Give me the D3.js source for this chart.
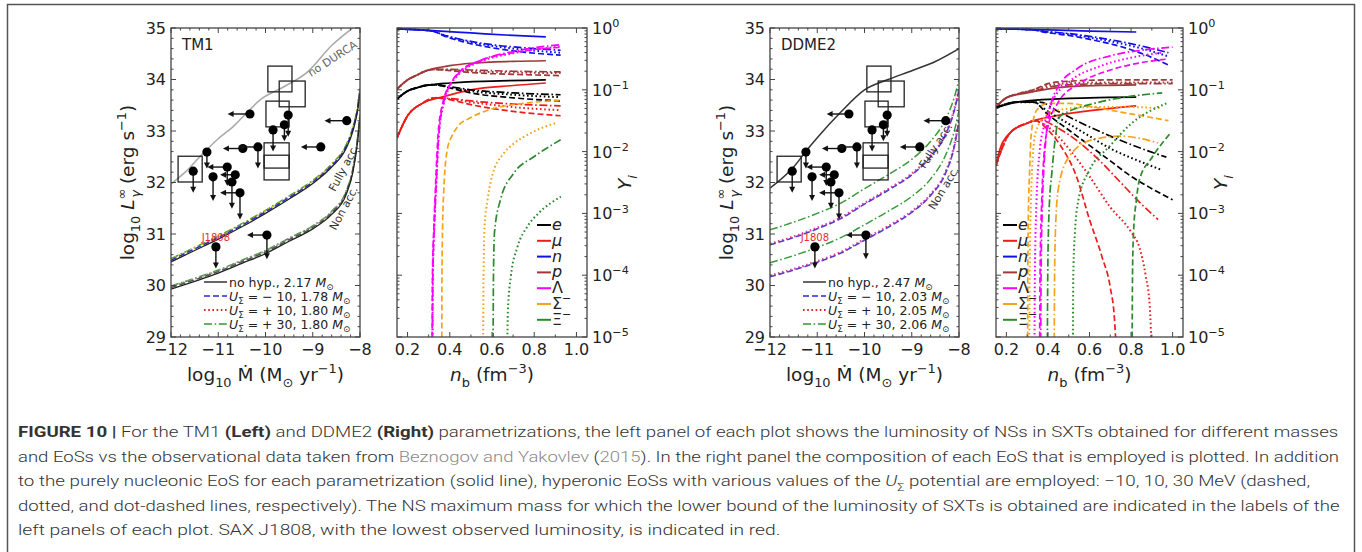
<!DOCTYPE html>
<html><head><meta charset="utf-8">
<script src="https://cdn.jsdelivr.net/npm/d3@7"></script>
<style>body{margin:0;background:#fff} svg{display:block}</style>
</head><body>
<script>
// ================= DATA =================
const mdotTicks = [-12,-11,-10,-9,-8];
const lumTicks = [29,30,31,32,33,34,35];
const nbTicks = [0.2,0.4,0.6,0.8,1.0];
const yiTicks = [0,-1,-2,-3,-4,-5];

// observational SXT data (log10 Mdot, log10 L)
const obsMdot = [-11.53,-11.24,-11.11,-10.81,-10.71,-10.64,-10.54,-10.48,-10.16,-10.33,-9.84,-9.60,-9.52,-8.83,-8.28,-11.05,-9.97];
const obsLum  = [32.22,32.59,32.11,32.30,32.01,32.15,31.80,32.66,32.69,33.33,33.02,33.12,33.31,32.69,33.20,30.75,30.98];
const obsDown = [0.40,0.30,0.45,0.35,0.50,0,0.50,0,0.40,0,0.40,0.30,0.40,0,0,0.40,0.45];
const obsLeft = [0,0,0,0.40,0,0.30,0.40,0.40,0.40,0.45,0,0,0,0.40,0.45,0,0.40];
const obsName = ["","","","","","","","","","","","","","","","J1808",""];
const boxMdot0 = [-11.85,-9.95,-9.71,-9.99,-10.03,-10.03];
const boxMdot1 = [-11.34,-9.44,-9.16,-9.50,-9.50,-9.50];
const boxLum0  = [32.01,33.76,33.47,33.08,32.28,32.05];
const boxLum1  = [32.51,34.26,33.97,33.58,32.77,32.53];

// TM1 luminosity curves
const tm1NoDurca = [[-12,31.97],[-11.7,32.2],[-11.39,32.5],[-11.0,32.85],[-10.69,33.08],[-10.4,33.35],[-10.12,33.6],[-9.63,33.85],[-9.12,34.14],[-8.6,34.66],[-8.2,34.97],[-8.05,35.08]];
const tm1FullySolid   = [[-12,30.46],[-11.5,30.68],[-11,30.90],[-10.5,31.14],[-10,31.40],[-9.5,31.68],[-9,31.98],[-8.6,32.30],[-8.3,32.65],[-8.15,33.00],[-8.05,33.40],[-8,33.75]];
const tm1FullyDash    = [[-12,30.49],[-11.5,30.71],[-11,30.93],[-10.5,31.17],[-10,31.43],[-9.5,31.71],[-9,32.01],[-8.6,32.33],[-8.3,32.69],[-8.15,33.05],[-8.05,33.45],[-8,33.80]];
const tm1FullyDot     = [[-12,30.51],[-11.5,30.73],[-11,30.95],[-10.5,31.19],[-10,31.45],[-9.5,31.73],[-9,32.03],[-8.6,32.35],[-8.3,32.71],[-8.15,33.07],[-8.05,33.47],[-8,33.82]];
const tm1FullyDashdot = [[-12,30.52],[-11.5,30.74],[-11,30.96],[-10.5,31.20],[-10,31.46],[-9.5,31.74],[-9,32.04],[-8.6,32.36],[-8.3,32.72],[-8.15,33.08],[-8.05,33.48],[-8,33.83]];
const tm1NonSolid     = [[-12,29.93],[-11.5,30.08],[-11,30.24],[-10.5,30.43],[-10,30.62],[-9.5,30.86],[-9,31.10],[-8.6,31.38],[-8.3,31.75],[-8.15,32.20],[-8.05,32.80],[-8,33.25]];
const tm1NonDash      = [[-12,29.96],[-11.5,30.11],[-11,30.27],[-10.5,30.46],[-10,30.65],[-9.5,30.89],[-9,31.13],[-8.6,31.41],[-8.3,31.79],[-8.15,32.25],[-8.05,32.85],[-8,33.30]];
const tm1NonDot       = [[-12,29.98],[-11.5,30.13],[-11,30.29],[-10.5,30.48],[-10,30.67],[-9.5,30.91],[-9,31.15],[-8.6,31.43],[-8.3,31.81],[-8.15,32.27],[-8.05,32.87],[-8,33.32]];
const tm1NonDashdot   = [[-12,29.99],[-11.5,30.14],[-11,30.30],[-10.5,30.49],[-10,30.68],[-9.5,30.92],[-9,31.16],[-8.6,31.44],[-8.3,31.82],[-8.15,32.28],[-8.05,32.88],[-8,33.33]];

// DDME2 luminosity curves
const ddTop = [[-12,31.89],[-11.5,32.3],[-11.22,32.63],[-11,32.87],[-10.5,33.37],[-10,33.8],[-9.5,34.0],[-9,34.17],[-8.5,34.35],[-8,34.6]];
const ddFullyDash    = [[-12,30.79],[-11.5,30.93],[-11,31.10],[-10.5,31.30],[-10,31.58],[-9.5,31.85],[-9,32.15],[-8.6,32.50],[-8.3,32.90],[-8.1,33.40],[-8,33.80]];
const ddFullyDot     = [[-12,30.81],[-11.5,30.95],[-11,31.12],[-10.5,31.32],[-10,31.60],[-9.5,31.87],[-9,32.17],[-8.6,32.52],[-8.3,32.92],[-8.1,33.42],[-8,33.82]];
const ddFullyDashdot = [[-12,31.08],[-11.5,31.23],[-11,31.40],[-10.5,31.60],[-10,31.88],[-9.5,32.15],[-9,32.45],[-8.6,32.80],[-8.3,33.20],[-8.1,33.65],[-8,34.00]];
const ddNonDash      = [[-12,30.17],[-11.5,30.30],[-11,30.45],[-10.5,30.63],[-10,30.88],[-9.5,31.13],[-9,31.42],[-8.6,31.75],[-8.3,32.15],[-8.1,32.70],[-8,33.20]];
const ddNonDot       = [[-12,30.19],[-11.5,30.32],[-11,30.47],[-10.5,30.65],[-10,30.90],[-9.5,31.15],[-9,31.44],[-8.6,31.77],[-8.3,32.17],[-8.1,32.72],[-8,33.22]];
const ddNonDashdot   = [[-12,30.44],[-11.5,30.58],[-11,30.74],[-10.5,30.93],[-10,31.18],[-9.5,31.44],[-9,31.73],[-8.6,32.07],[-8.3,32.50],[-8.1,33.00],[-8,33.40]];

// TM1 composition: [n_b, log10 Y_i]
const tm1_n_solid  = [[0.15,-0.015],[0.3,-0.04],[0.5,-0.08],[0.7,-0.12],[0.855,-0.145]];
const tm1_p_solid  = [[0.15,-0.99],[0.2,-0.84],[0.245,-0.76],[0.3,-0.68],[0.4,-0.61],[0.5,-0.57],[0.7,-0.54],[0.855,-0.53]];
const tm1_e_solid  = [[0.15,-1.15],[0.2,-1.02],[0.25,-0.96],[0.307,-0.92],[0.4,-0.89],[0.6,-0.86],[0.855,-0.84]];
const tm1_mu_solid = [[0.15,-1.78],[0.2,-1.42],[0.27,-1.22],[0.37,-1.11],[0.5,-1.0],[0.7,-0.93],[0.855,-0.89]];
const tm1_n_dash    = [[0.15,-0.015],[0.3,-0.04],[0.33,-0.06],[0.36,-0.11],[0.46,-0.22],[0.6,-0.32],[0.75,-0.39],[0.925,-0.44]];
const tm1_n_dot     = [[0.15,-0.015],[0.3,-0.04],[0.33,-0.06],[0.36,-0.10],[0.46,-0.20],[0.6,-0.29],[0.75,-0.35],[0.925,-0.40]];
const tm1_n_dashdot = [[0.15,-0.015],[0.3,-0.04],[0.33,-0.06],[0.36,-0.10],[0.46,-0.19],[0.6,-0.27],[0.75,-0.32],[0.925,-0.36]];
const tm1_L_dash    = [[0.316,-5.3],[0.318,-4],[0.325,-3.2],[0.332,-2.6],[0.345,-1.7],[0.37,-1.17],[0.4,-0.92],[0.44,-0.73],[0.55,-0.52],[0.7,-0.40],[0.925,-0.31]];
const tm1_L_dot     = [[0.318,-5.3],[0.32,-4],[0.327,-3.2],[0.335,-2.6],[0.348,-1.75],[0.373,-1.2],[0.4,-0.95],[0.44,-0.76],[0.55,-0.54],[0.7,-0.41],[0.925,-0.30]];
const tm1_L_dashdot = [[0.318,-5.3],[0.32,-4],[0.327,-3.2],[0.335,-2.6],[0.348,-1.72],[0.373,-1.18],[0.4,-0.93],[0.44,-0.74],[0.55,-0.52],[0.7,-0.38],[0.925,-0.27]];
const tm1_p_dash    = [[0.15,-0.99],[0.2,-0.84],[0.245,-0.76],[0.3,-0.68],[0.33,-0.67],[0.4,-0.69],[0.5,-0.72],[0.7,-0.75],[0.925,-0.77]];
const tm1_p_dot     = [[0.15,-0.99],[0.2,-0.84],[0.245,-0.76],[0.3,-0.68],[0.33,-0.67],[0.4,-0.68],[0.5,-0.70],[0.7,-0.72],[0.925,-0.73]];
const tm1_p_dashdot = [[0.15,-0.99],[0.2,-0.84],[0.245,-0.76],[0.3,-0.68],[0.33,-0.67],[0.4,-0.67],[0.5,-0.68],[0.7,-0.70],[0.925,-0.71]];
const tm1_e_dash    = [[0.15,-1.15],[0.2,-1.02],[0.25,-0.96],[0.307,-0.92],[0.33,-0.92],[0.4,-0.97],[0.5,-1.05],[0.7,-1.13],[0.925,-1.18]];
const tm1_e_dot     = [[0.15,-1.15],[0.2,-1.02],[0.25,-0.96],[0.307,-0.92],[0.33,-0.92],[0.4,-0.96],[0.5,-1.02],[0.7,-1.08],[0.925,-1.12]];
const tm1_e_dashdot = [[0.15,-1.15],[0.2,-1.02],[0.25,-0.96],[0.307,-0.92],[0.33,-0.92],[0.4,-0.95],[0.5,-1.00],[0.7,-1.05],[0.925,-1.08]];
const tm1_mu_dash    = [[0.15,-1.78],[0.2,-1.42],[0.27,-1.22],[0.33,-1.13],[0.4,-1.16],[0.5,-1.24],[0.7,-1.35],[0.925,-1.42]];
const tm1_mu_dot     = [[0.15,-1.78],[0.2,-1.42],[0.27,-1.22],[0.33,-1.13],[0.4,-1.15],[0.5,-1.20],[0.7,-1.28],[0.925,-1.33]];
const tm1_mu_dashdot = [[0.15,-1.78],[0.2,-1.42],[0.27,-1.22],[0.33,-1.13],[0.4,-1.14],[0.5,-1.18],[0.7,-1.23],[0.925,-1.26]];
const tm1_S_dash = [[0.362,-5.3],[0.363,-4],[0.366,-3.2],[0.372,-2.6],[0.388,-1.97],[0.41,-1.75],[0.436,-1.6],[0.5,-1.45],[0.58,-1.33],[0.75,-1.22],[0.925,-1.17]];
const tm1_S_dot  = [[0.558,-5.3],[0.56,-4],[0.565,-3.2],[0.579,-2.78],[0.6,-2.4],[0.655,-2.03],[0.7,-1.88],[0.783,-1.7],[0.9,-1.54]];
const tm1_X_dashdot = [[0.605,-5.3],[0.607,-4],[0.612,-3.3],[0.64,-2.78],[0.703,-2.35],[0.8,-2.08],[0.925,-1.81]];
const tm1_X_dot     = [[0.672,-5.3],[0.675,-4.6],[0.69,-4.0],[0.72,-3.55],[0.77,-3.2],[0.82,-3.0],[0.926,-2.73]];

// DDME2 composition
const dd_n_solid  = [[0.15,-0.01],[0.4,-0.03],[0.6,-0.05],[0.825,-0.065]];
const dd_p_solid  = [[0.15,-1.28],[0.2,-1.13],[0.3,-1.05],[0.46,-0.96],[0.65,-0.93],[0.825,-0.92]];
const dd_e_solid  = [[0.15,-1.29],[0.25,-1.2],[0.37,-1.16],[0.6,-1.13],[0.825,-1.12]];
const dd_mu_solid = [[0.15,-2.22],[0.17,-1.95],[0.217,-1.7],[0.3,-1.54],[0.456,-1.41],[0.65,-1.32],[0.825,-1.26]];
const dd_n_dash    = [[0.15,-0.01],[0.33,-0.03],[0.37,-0.06],[0.5,-0.12],[0.61,-0.19],[0.75,-0.30],[0.85,-0.41],[0.98,-0.60]];
const dd_n_dot     = [[0.15,-0.01],[0.33,-0.03],[0.37,-0.05],[0.5,-0.10],[0.61,-0.16],[0.75,-0.25],[0.85,-0.33],[0.98,-0.46]];
const dd_n_dashdot = [[0.15,-0.01],[0.33,-0.03],[0.37,-0.05],[0.5,-0.09],[0.61,-0.14],[0.75,-0.22],[0.85,-0.29],[0.98,-0.40]];
const dd_L_dash    = [[0.36,-5.3],[0.362,-4],[0.37,-2.8],[0.38,-2.1],[0.4,-1.6],[0.45,-1.2],[0.55,-0.9],[0.7,-0.68],[0.85,-0.56],[0.98,-0.5]];
const dd_L_dot     = [[0.335,-5.3],[0.337,-4],[0.345,-2.8],[0.36,-2.0],[0.38,-1.6],[0.42,-1.2],[0.5,-0.88],[0.65,-0.62],[0.8,-0.48],[0.95,-0.4]];
const dd_L_dashdot = [[0.365,-5.3],[0.367,-4],[0.372,-3],[0.38,-2.3],[0.39,-1.8],[0.41,-1.3],[0.45,-0.95],[0.54,-0.66],[0.7,-0.45],[0.85,-0.36],[1.0,-0.31]];
const dd_p_dash    = [[0.15,-1.28],[0.2,-1.13],[0.25,-1.07],[0.33,-1.0],[0.4,-0.9],[0.46,-0.87],[0.7,-0.84],[1.0,-0.84]];
const dd_p_dot     = [[0.15,-1.28],[0.2,-1.13],[0.25,-1.07],[0.33,-1.0],[0.4,-0.93],[0.46,-0.9],[0.7,-0.88],[1.0,-0.88]];
const dd_p_dashdot = [[0.15,-1.28],[0.2,-1.13],[0.25,-1.07],[0.33,-1.02],[0.4,-0.96],[0.46,-0.93],[0.7,-0.9],[1.0,-0.9]];
const dd_e_dash    = [[0.15,-1.29],[0.25,-1.2],[0.33,-1.2],[0.4,-1.4],[0.5,-1.65],[0.6,-1.9],[0.7,-2.15],[0.8,-2.4],[0.9,-2.6],[1.0,-2.78]];
const dd_e_dot     = [[0.15,-1.29],[0.25,-1.2],[0.33,-1.2],[0.4,-1.35],[0.5,-1.55],[0.6,-1.75],[0.7,-1.95],[0.8,-2.1],[0.95,-2.3]];
const dd_e_dashdot = [[0.15,-1.29],[0.25,-1.2],[0.36,-1.2],[0.45,-1.35],[0.55,-1.52],[0.7,-1.75],[0.85,-1.95],[0.97,-2.09]];
const dd_mu_dash    = [[0.15,-2.22],[0.217,-1.7],[0.3,-1.54],[0.34,-1.5],[0.4,-1.65],[0.46,-1.9],[0.537,-2.4],[0.6,-3.1],[0.66,-3.7],[0.7,-4.2],[0.72,-4.7],[0.73,-5.3]];
const dd_mu_dot     = [[0.15,-2.22],[0.217,-1.7],[0.3,-1.54],[0.33,-1.5],[0.4,-1.6],[0.5,-1.95],[0.6,-2.4],[0.7,-2.9],[0.8,-3.3],[0.84,-3.55],[0.87,-4.0],[0.89,-4.5],[0.9,-5.3]];
const dd_mu_dashdot = [[0.15,-2.22],[0.217,-1.7],[0.3,-1.54],[0.36,-1.49],[0.45,-1.62],[0.55,-1.85],[0.65,-2.15],[0.75,-2.5],[0.85,-2.85],[0.93,-3.1]];
const dd_S_dash    = [[0.302,-5.3],[0.303,-4],[0.306,-3],[0.312,-2.3],[0.32,-1.7],[0.346,-1.33],[0.4,-1.22],[0.5,-1.22],[0.6,-1.27],[0.75,-1.36],[0.9,-1.45],[0.98,-1.5]];
const dd_S_dot     = [[0.31,-5.3],[0.312,-4],[0.317,-3],[0.325,-2.2],[0.34,-1.7],[0.38,-1.45],[0.45,-1.33],[0.6,-1.28],[0.8,-1.28],[0.95,-1.3]];
const dd_S_dashdot = [[0.43,-5.3],[0.432,-4],[0.437,-3.2],[0.45,-2.6],[0.5,-2.09],[0.61,-1.81],[0.75,-1.75],[0.93,-1.86]];
const dd_X_dashdot = [[0.397,-5.3],[0.399,-4],[0.405,-3],[0.42,-2.3],[0.456,-1.44],[0.5,-1.35],[0.6,-1.24],[0.75,-1.13],[0.95,-1.05]];
const dd_X_dot     = [[0.52,-5.3],[0.522,-4],[0.53,-3.3],[0.547,-2.78],[0.6,-2.3],[0.695,-1.92],[0.8,-1.55],[0.97,-1.22]];
const dd_X_dash    = [[0.805,-5.3],[0.807,-4],[0.812,-3.3],[0.825,-2.8],[0.84,-2.46],[0.9,-2.1],[0.99,-1.7]];

const speciesKeys = ["e","mu","n","p","L","S","X"];
const speciesColor = {e:"#000000", mu:"#ee1c1c", n:"#1010e8", p:"#a0383a", L:"#ff00ff", S:"#f5a31c", X:"#2b8a2b"};

// ================= DRAWING =================
const W = 1362, H = 552;
const svg = d3.select("body").append("svg").attr("width",W).attr("height",H)
  .style("font-family","'DejaVu Sans', sans-serif");
svg.append("rect").attr("x",7.5).attr("y",4.5).attr("width",1347).attr("height",620)
  .attr("fill","none").attr("stroke","#555").attr("stroke-width",1.5);

const PY0 = 28, PY1 = 337;
const dashes = {solid:null, dash:"6,3", dot:"1.6,2.6", dashdot:"8,2.6,1.6,2.6"};
const TICKFS = 16, LABFS = 18.5;

function rich(sel, parts, fs) {
  let cur = 0;
  parts.forEach(p => {
    const ts = sel.append("tspan").text(p.t);
    const target = p.sub ? fs*0.3 : (p.sup ? -fs*0.42 : 0);
    const dy = target - cur;
    if (dy !== 0) ts.attr("dy", dy);
    cur = target;
    if (p.sub || p.sup) ts.attr("font-size", fs*0.7);
    if (p.i) ts.attr("font-style","italic");
    if (p.b) ts.attr("font-weight","bold");
    if (p.fill) ts.attr("fill", p.fill);
    if (p.dx) ts.attr("dx", p.dx);
  });
}

function frameTicks(g, x, y, xMaj, xMin, yMaj, yMin) {
  const [x0,x1] = x.range(), y1 = y.range()[0], y0 = y.range()[1];
  const tk = g.append("g").attr("stroke","#444").attr("stroke-width",1);
  const addX = (v,len) => {
    tk.append("line").attr("x1",x(v)).attr("x2",x(v)).attr("y1",y1).attr("y2",y1-len);
    tk.append("line").attr("x1",x(v)).attr("x2",x(v)).attr("y1",y0).attr("y2",y0+len);
  };
  const addY = (v,len) => {
    tk.append("line").attr("y1",y(v)).attr("y2",y(v)).attr("x1",x0).attr("x2",x0+len);
    tk.append("line").attr("y1",y(v)).attr("y2",y(v)).attr("x1",x1).attr("x2",x1-len);
  };
  xMaj.forEach(v => addX(v,5)); xMin.forEach(v => addX(v,2.5));
  yMaj.forEach(v => addY(v,5)); yMin.forEach(v => addY(v,2.5));
  g.append("rect").attr("x",x0).attr("y",y0).attr("width",x1-x0).attr("height",y1-y0)
    .attr("fill","none").attr("stroke","#444").attr("stroke-width",1.3);
}

function drawLPanel(cfg) {
  const x = d3.scaleLinear().domain([-12,-8]).range([cfg.x0,cfg.x1]);
  const y = d3.scaleLinear().domain([29,35]).range([PY1,PY0]);
  const g = svg.append("g");
  svg.append("clipPath").attr("id","clip"+cfg.id).append("rect")
    .attr("x",cfg.x0).attr("y",PY0).attr("width",cfg.x1-cfg.x0).attr("height",PY1-PY0);
  const pg = g.append("g").attr("clip-path",`url(#clip${cfg.id})`);
  const line = d3.line().x(d=>x(d[0])).y(d=>y(d[1])).curve(d3.curveMonotoneX);
  cfg.curves.forEach(c => {
    pg.append("path").attr("d",line(c.pts)).attr("fill","none").attr("stroke",c.color)
      .attr("stroke-width",c.w||1.5).attr("stroke-dasharray",dashes[c.style]);
  });
  boxMdot0.forEach((b,i) => {
    pg.append("rect").attr("x",x(boxMdot0[i])).attr("y",y(boxLum1[i]))
      .attr("width",x(boxMdot1[i])-x(boxMdot0[i])).attr("height",y(boxLum0[i])-y(boxLum1[i]))
      .attr("fill","none").attr("stroke","#222").attr("stroke-width",1.3);
  });
  obsMdot.forEach((m,i) => {
    const cx = x(m), cy = y(obsLum[i]);
    if (obsDown[i] > 0) {
      const ey = y(obsLum[i]-obsDown[i]);
      pg.append("line").attr("x1",cx).attr("x2",cx).attr("y1",cy).attr("y2",ey-3).attr("stroke","#111").attr("stroke-width",1.4);
      pg.append("path").attr("d",`M${cx-3},${ey-5}L${cx+3},${ey-5}L${cx},${ey+1}Z`).attr("fill","#111");
    }
    if (obsLeft[i] > 0) {
      const ex = x(m-obsLeft[i]);
      pg.append("line").attr("x1",cx).attr("x2",ex+3).attr("y1",cy).attr("y2",cy).attr("stroke","#111").attr("stroke-width",1.4);
      pg.append("path").attr("d",`M${ex+5},${cy-3}L${ex+5},${cy+3}L${ex-1},${cy}Z`).attr("fill","#111");
    }
    pg.append("circle").attr("cx",cx).attr("cy",cy).attr("r",4.6).attr("fill","#000");
    if (obsName[i]) {
      g.append("text").attr("x",cx).attr("y",cy-6).attr("text-anchor","middle")
        .attr("font-size",10).attr("fill","#e03030").text(obsName[i]);
    }
  });
  cfg.notes.forEach(n => {
    g.append("text").attr("transform",`translate(${x(n.x)},${y(n.y)}) rotate(${n.rot})`)
      .attr("text-anchor","middle").attr("dominant-baseline","central")
      .attr("font-size",n.fs||11).attr("fill",n.color||"#333").text(n.t);
  });
  g.append("text").attr("x",cfg.x0+11).attr("y",PY0+22).attr("font-size",15).attr("fill","#222").text(cfg.title);
  cfg.legend.forEach((L,k) => {
    const ly = cfg.legY + k*14;
    g.append("line").attr("x1",cfg.legX).attr("x2",cfg.legX+23).attr("y1",ly).attr("y2",ly)
      .attr("stroke",L.color).attr("stroke-width",L.w||1.5).attr("stroke-dasharray",dashes[L.style]);
    const t = g.append("text").attr("x",cfg.legX+25).attr("y",ly+4.5).attr("font-size",12.5).attr("fill","#222");
    rich(t, L.parts, 12.5);
  });
  const xMin = d3.range(-12,-8.01,0.2).filter(v => Math.abs(v-Math.round(v))>0.01);
  const yMin = d3.range(29,35.01,0.2).filter(v => Math.abs(v-Math.round(v))>0.01);
  frameTicks(g, x, y, mdotTicks, xMin, lumTicks, yMin);
  mdotTicks.forEach(v => g.append("text").attr("x",x(v)).attr("y",PY1+18).attr("text-anchor","middle")
    .attr("font-size",TICKFS).attr("fill","#222").text(d3.format("")(v).replace("-","\u2212")));
  lumTicks.forEach(v => g.append("text").attr("x",cfg.x0-5).attr("y",y(v)).attr("text-anchor","end")
    .attr("dominant-baseline","central").attr("font-size",TICKFS).attr("fill","#222").text(v));
  const xl = g.append("text").attr("x",(cfg.x0+cfg.x1)/2).attr("y",PY1+44).attr("text-anchor","middle")
    .attr("font-size",LABFS).attr("fill","#222");
  rich(xl,[{t:"log"},{t:"10",sub:1},{t:" M\u0307 (M"},{t:"\u2299",sub:1},{t:" yr"},{t:"\u22121",sup:1},{t:")"}],LABFS);
  const yl = g.append("text").attr("transform",`translate(${cfg.x0-37},${(PY0+PY1)/2}) rotate(-90)`)
    .attr("text-anchor","middle").attr("font-size",LABFS).attr("fill","#222");
  rich(yl,[{t:"log"},{t:"10",sub:1},{t:" "},{t:"L",i:1},{t:"\u221E",sup:1},{t:"\u03B3",sub:1,i:1,dx:-9},{t:" (erg s"},{t:"\u22121",sup:1},{t:")"}],LABFS);
}

function drawCPanel(cfg) {
  const x = d3.scaleLinear().domain([0.15,1.05]).range([cfg.x0,cfg.x1]);
  const y = d3.scaleLinear().domain([-5,0]).range([PY1,PY0]);
  const g = svg.append("g");
  svg.append("clipPath").attr("id","clip"+cfg.id).append("rect")
    .attr("x",cfg.x0).attr("y",PY0).attr("width",cfg.x1-cfg.x0).attr("height",PY1-PY0);
  const pg = g.append("g").attr("clip-path",`url(#clip${cfg.id})`);
  const line = d3.line().x(d=>x(d[0])).y(d=>y(d[1])).curve(d3.curveMonotoneX);
  cfg.curves.forEach(c => {
    pg.append("path").attr("d",line(c.pts)).attr("fill","none").attr("stroke",speciesColor[c.sp])
      .attr("stroke-width",c.style==="dot"?2.0:1.7).attr("stroke-dasharray",dashes[c.style]);
  });
  const labels = [[{t:"e",i:1}],[{t:"\u03BC",i:1}],[{t:"n",i:1}],[{t:"p",i:1}],[{t:"\u039B"}],[{t:"\u03A3"},{t:"\u2212",sup:1}],[{t:"\u039E"},{t:"\u2212",sup:1}]];
  speciesKeys.forEach((s,k) => {
    const ly = cfg.legY + k*15.8;
    g.append("line").attr("x1",cfg.legX).attr("x2",cfg.legX+14).attr("y1",ly).attr("y2",ly)
      .attr("stroke",speciesColor[s]).attr("stroke-width",2);
    const t = g.append("text").attr("x",cfg.legX+15).attr("y",ly+5).attr("font-size",16).attr("fill","#222");
    rich(t, labels[k], 16);
  });
  const xMin = d3.range(0.2,1.01,0.1).filter(v => Math.abs(v*5-Math.round(v*5))>0.01);
  const yMin = [];
  for (let k=-5;k<0;k++) for (let m=2;m<10;m++) yMin.push(k+Math.log10(m));
  frameTicks(g, x, y, nbTicks, xMin, yiTicks, yMin);
  nbTicks.forEach(v => g.append("text").attr("x",x(v)).attr("y",PY1+18).attr("text-anchor","middle")
    .attr("font-size",TICKFS).attr("fill","#222").text(d3.format(".1f")(v)));
  yiTicks.forEach(v => {
    const t = g.append("text").attr("x",cfg.x1+5).attr("y",y(v)+6).attr("font-size",TICKFS).attr("fill","#222");
    rich(t,[{t:"10"},{t:(v===0?"0":"\u2212"+(-v)),sup:1}],TICKFS);
  });
  const xl = g.append("text").attr("x",(cfg.x0+cfg.x1)/2).attr("y",PY1+44).attr("text-anchor","middle")
    .attr("font-size",LABFS).attr("fill","#222");
  rich(xl,[{t:"n",i:1},{t:"b",sub:1},{t:" (fm"},{t:"\u22123",sup:1},{t:")"}],LABFS);
  const yl = g.append("text").attr("transform",`translate(${cfg.x1+44},${(PY0+PY1)/2}) rotate(-90)`)
    .attr("text-anchor","middle").attr("font-size",LABFS).attr("fill","#222");
  rich(yl,[{t:"Y",i:1},{t:"i",sub:1,i:1}],LABFS);
}

const msun = [{t:"M",i:1},{t:"\u2299",sub:1}];
const usig = [{t:"U",i:1},{t:"\u03A3",sub:1}];
function legRows(m0,m1,m2,m3){
  return [
    {color:"#333",style:"solid",parts:[{t:"no hyp., "+m0+" "}].concat(msun)},
    {color:"#2a2ad0",style:"dash",parts:usig.concat([{t:" = \u2212 10, "+m1+" "}],msun)},
    {color:"#e02020",style:"dot",w:2.2,parts:usig.concat([{t:" = + 10, "+m2+" "}],msun)},
    {color:"#2e9a2e",style:"dashdot",parts:usig.concat([{t:" = + 30, "+m3+" "}],msun)}
  ];
}

drawLPanel({id:"a", x0:171, x1:360, title:"TM1", legX:204, legY:282,
  legend: legRows("2.17","1.78","1.80","1.80"),
  curves:[
    {pts:tm1NoDurca,color:"#aaaaaa",style:"solid",w:1.6},
    {pts:tm1FullyDashdot,color:"#4a9a3a",style:"dashdot"},
    {pts:tm1FullyDot,color:"#c8c020",style:"dot",w:1.8},
    {pts:tm1FullyDash,color:"#3030c0",style:"dash"},
    {pts:tm1FullySolid,color:"#222",style:"solid",w:1.3},
    {pts:tm1NonDashdot,color:"#4a9a3a",style:"dashdot"},
    {pts:tm1NonDot,color:"#999",style:"dot",w:1.8},
    {pts:tm1NonDash,color:"#555",style:"dash"},
    {pts:tm1NonSolid,color:"#222",style:"solid",w:1.3}
  ],
  notes:[
    {t:"no DURCA",x:-8.58,y:34.4,rot:-33,color:"#666"},
    {t:"Fully acc.",x:-8.34,y:32.28,rot:-62},
    {t:"Non acc.",x:-8.34,y:31.5,rot:-62}
  ]});

drawCPanel({id:"b", x0:397, x1:587, legX:537, legY:225,
  curves:[
    {sp:"n",style:"solid",pts:tm1_n_solid},{sp:"p",style:"solid",pts:tm1_p_solid},
    {sp:"e",style:"solid",pts:tm1_e_solid},{sp:"mu",style:"solid",pts:tm1_mu_solid},
    {sp:"n",style:"dash",pts:tm1_n_dash},{sp:"n",style:"dot",pts:tm1_n_dot},{sp:"n",style:"dashdot",pts:tm1_n_dashdot},
    {sp:"p",style:"dash",pts:tm1_p_dash},{sp:"p",style:"dot",pts:tm1_p_dot},{sp:"p",style:"dashdot",pts:tm1_p_dashdot},
    {sp:"e",style:"dash",pts:tm1_e_dash},{sp:"e",style:"dot",pts:tm1_e_dot},{sp:"e",style:"dashdot",pts:tm1_e_dashdot},
    {sp:"mu",style:"dash",pts:tm1_mu_dash},{sp:"mu",style:"dot",pts:tm1_mu_dot},{sp:"mu",style:"dashdot",pts:tm1_mu_dashdot},
    {sp:"S",style:"dash",pts:tm1_S_dash},{sp:"S",style:"dot",pts:tm1_S_dot},
    {sp:"X",style:"dashdot",pts:tm1_X_dashdot},{sp:"X",style:"dot",pts:tm1_X_dot},
    {sp:"L",style:"dash",pts:tm1_L_dash},{sp:"L",style:"dot",pts:tm1_L_dot},{sp:"L",style:"dashdot",pts:tm1_L_dashdot}
  ]});

drawLPanel({id:"c", x0:770, x1:959, title:"DDME2", legX:803, legY:282,
  legend: legRows("2.47","2.03","2.05","2.06"),
  curves:[
    {pts:ddTop,color:"#333",style:"solid",w:1.5},
    {pts:ddFullyDashdot,color:"#3a9a3a",style:"dashdot"},
    {pts:ddFullyDot,color:"#e040a0",style:"dot",w:2.4},
    {pts:ddFullyDash,color:"#5a3ad0",style:"dash",w:1.6},
    {pts:ddNonDashdot,color:"#3a9a3a",style:"dashdot"},
    {pts:ddNonDot,color:"#e040a0",style:"dot",w:2.4},
    {pts:ddNonDash,color:"#5a3ad0",style:"dash",w:1.6}
  ],
  notes:[
    {t:"Fully acc.",x:-8.49,y:32.71,rot:-57},
    {t:"Non acc.",x:-8.32,y:31.89,rot:-59}
  ]});

drawCPanel({id:"d", x0:996, x1:1183, legX:1003, legY:225,
  curves:[
    {sp:"n",style:"solid",pts:dd_n_solid},{sp:"p",style:"solid",pts:dd_p_solid},
    {sp:"e",style:"solid",pts:dd_e_solid},{sp:"mu",style:"solid",pts:dd_mu_solid},
    {sp:"n",style:"dash",pts:dd_n_dash},{sp:"n",style:"dot",pts:dd_n_dot},{sp:"n",style:"dashdot",pts:dd_n_dashdot},
    {sp:"p",style:"dash",pts:dd_p_dash},{sp:"p",style:"dot",pts:dd_p_dot},{sp:"p",style:"dashdot",pts:dd_p_dashdot},
    {sp:"e",style:"dash",pts:dd_e_dash},{sp:"e",style:"dot",pts:dd_e_dot},{sp:"e",style:"dashdot",pts:dd_e_dashdot},
    {sp:"mu",style:"dash",pts:dd_mu_dash},{sp:"mu",style:"dot",pts:dd_mu_dot},{sp:"mu",style:"dashdot",pts:dd_mu_dashdot},
    {sp:"S",style:"dash",pts:dd_S_dash},{sp:"S",style:"dot",pts:dd_S_dot},{sp:"S",style:"dashdot",pts:dd_S_dashdot},
    {sp:"X",style:"dashdot",pts:dd_X_dashdot},{sp:"X",style:"dot",pts:dd_X_dot},{sp:"X",style:"dash",pts:dd_X_dash},
    {sp:"L",style:"dash",pts:dd_L_dash},{sp:"L",style:"dot",pts:dd_L_dot},{sp:"L",style:"dashdot",pts:dd_L_dashdot}
  ]});

// ================= CAPTION =================
const G = "#8a8a8a";
const captionLines = [
  [{t:"FIGURE 10 | ",b:1},{t:"For the TM1 "},{t:"(Left)",b:1},{t:" and DDME2 "},{t:"(Right)",b:1},{t:" parametrizations, the left panel of each plot shows the luminosity of NSs in SXTs obtained for different masses"}],
  [{t:"and EoSs vs the observational data taken from "},{t:"Beznogov and Yakovlev",fill:G},{t:" ("},{t:"2015",fill:G},{t:"). In the right panel the composition of each EoS that is employed is plotted. In addition"}],
  [{t:"to the purely nucleonic EoS for each parametrization (solid line), hyperonic EoSs with various values of the "},{t:"U",i:1},{t:"\u03A3",sub:1},{t:" potential are employed: \u221210, 10, 30 MeV (dashed,"}],
  [{t:"dotted, and dot-dashed lines, respectively). The NS maximum mass for which the lower bound of the luminosity of SXTs is obtained are indicated in the labels of the"}],
  [{t:"left panels of each plot. SAX J1808, with the lowest observed luminosity, is indicated in red."}]
];
const captionEnd = [1340,1340,1311,1341,781];
const captionBase = [437,461.5,486,510.5,535];
captionLines.forEach((parts,k) => {
  const t = svg.append("text").attr("x",0).attr("y",0).attr("font-size",15)
    .style("font-family","Roboto, 'Liberation Sans', sans-serif").style("font-weight",300).attr("fill","#333");
  rich(t, parts, 15);
  const len = t.node().getComputedTextLength();
  const sx = (captionEnd[k]-18)/len;
  t.attr("transform",`translate(18,${captionBase[k]}) scale(${sx},1)`);
});
</script>
</body></html>
